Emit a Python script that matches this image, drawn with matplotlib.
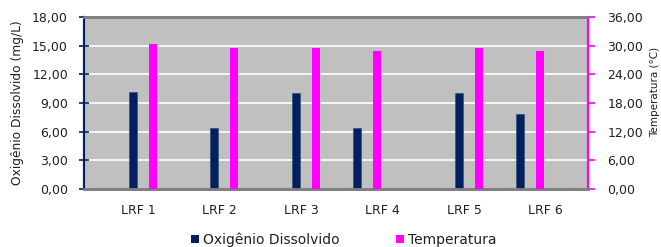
import matplotlib
matplotlib.use("Agg")
import matplotlib.pyplot as plt
from matplotlib.patches import Patch
from matplotlib.ticker import FuncFormatter, MultipleLocator
import numpy as np

categories = ["LRF 1", "LRF 2", "LRF 3", "LRF 4", "LRF 5", "LRF 6"]
oxigenio = [10.2, 6.35, 10.0, 6.35, 10.0, 7.9]
temperatura = [30.4, 29.6, 29.6, 28.9, 29.6, 28.9]
od_label = "Oxigênio Dissolvido"
temp_label = "Temperatura"

# layout (slot shift of the bar pair within each category, as in the reference)
pair_shift = [0, 0, 0, -1, 0, -1]

navy = "#002060"
magenta = "#FF00FF"

plt.rcParams["font.family"] = ["DejaVu Sans"]

fig = plt.figure(figsize=(6.61, 2.47), dpi=100)
ax = fig.add_axes([84 / 661, 1 - 189 / 247, (588 - 84) / 661, (189 - 17) / 247])
ax2 = ax.twinx()

x = np.arange(len(categories))
slot = 0.245
width = 0.098
shift = np.array(pair_shift) * slot
ax.bar(x - 0.066 + shift, oxigenio, width, color=navy, edgecolor="#3a4f7a", linewidth=0.5, zorder=3)
ax2.bar(x - 0.066 + slot + shift, temperatura, width, color=magenta, linewidth=0, zorder=3)

ax.set_facecolor("#C0C0C0")
ax.set_xlim(-0.663, 5.52)
ax.set_ylim(0, 18)
ax2.set_ylim(0, 36)
ax.yaxis.set_major_locator(MultipleLocator(3))
ax2.yaxis.set_major_locator(MultipleLocator(6))
fmt = FuncFormatter(lambda v, p: f"{v:.2f}".replace(".", ","))
ax.yaxis.set_major_formatter(fmt)
ax2.yaxis.set_major_formatter(fmt)
ax.grid(axis="y", color="white", linewidth=1.2, zorder=0)
ax.set_axisbelow(True)

ax.set_xticks(x)
ax.set_xticklabels(categories, fontsize=9, color="#202020")
ax.tick_params(axis="x", length=0, pad=11)
ax.tick_params(axis="y", direction="inout", length=7, color=navy, width=1.2,
               labelsize=9, labelcolor="#202020", pad=8)
ax2.tick_params(axis="y", direction="out", length=5, color=magenta, width=1.2,
                labelsize=9, labelcolor="#202020", pad=9)

for a in (ax, ax2):
    a.spines["top"].set_color("#808080")
    a.spines["top"].set_linewidth(2)
    a.spines["bottom"].set_color("#808080")
    a.spines["bottom"].set_linewidth(2)
    a.spines["left"].set_color(navy)
    a.spines["left"].set_linewidth(1.5)
    a.spines["right"].set_color(magenta)
    a.spines["right"].set_linewidth(1.5)

ax.set_ylabel("Oxigênio Dissolvido (mg/L)", fontsize=8.8, color="#202020", labelpad=6)
fig.text(655 / 661, 1 - 92 / 247, "Temperatura (°C)", rotation=90, fontsize=7.5,
         color="#202020", ha="center", va="center")

handles = [Patch(facecolor=navy, edgecolor="none"), Patch(facecolor=magenta, edgecolor="none")]
fig.legend(handles, [od_label, temp_label], loc="center", bbox_to_anchor=(0.52, 0.03),
           ncol=2, frameon=False, fontsize=10, handlelength=0.6, handleheight=0.6,
           handletextpad=0.3, columnspacing=4.0, labelcolor="#202020")

fig.savefig("out.png", dpi=100)
